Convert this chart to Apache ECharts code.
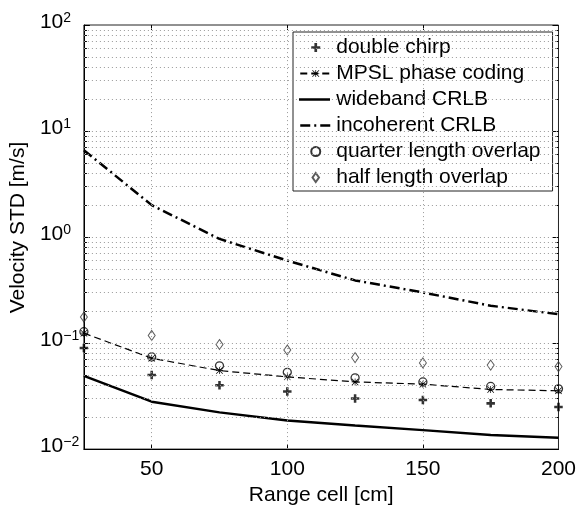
<!DOCTYPE html>
<html>
<head>
<meta charset="utf-8">
<script src="https://cdn.jsdelivr.net/npm/echarts@6/dist/echarts.min.js"></script>
<style>html,body{margin:0;padding:0;background:#fff;}#c{width:579px;height:511px;}</style>
</head>
<body>
<div id="c"></div>
<script>
// ---- data ----
var rangeCells = [25, 50, 75, 100, 125, 150, 175, 200];
var doubleChirp = [0.090, 0.050, 0.040, 0.035, 0.030, 0.029, 0.027, 0.025];
var mpslPhaseCoding = [0.124, 0.072, 0.055, 0.048, 0.043, 0.041, 0.0365, 0.0355];
var widebandCRLB = [0.049, 0.028, 0.0222, 0.0186, 0.0167, 0.0151, 0.0136, 0.0128];
var incoherentCRLB = [6.6, 2.0, 0.96, 0.60, 0.39, 0.30, 0.225, 0.187];
var quarterOverlap = [0.128, 0.074, 0.061, 0.053, 0.047, 0.043, 0.039, 0.037];
var halfOverlap = [0.176, 0.118, 0.097, 0.086, 0.073, 0.065, 0.062, 0.060];
var xTickValues = [50, 100, 150, 200];
var xGridValues = [50, 100, 150];
var yMajorValues = [0.01, 0.1, 1, 10, 100];
var yMinorValues = [];
[0.01, 0.1, 1, 10].forEach(function (d) { for (var k = 2; k <= 9; k++) yMinorValues.push(+(d * k).toPrecision(3)); });
var yGridValues = yMinorValues.concat([0.1, 1, 10]);

function pairs(ys) { return rangeCells.map(function (x, i) { return [x, ys[i]]; }); }

var FONT = '"Liberation Sans", Arial, Helvetica, sans-serif';
var plusPath = 'path://M3.5,0L6.5,0L6.5,3.5L10,3.5L10,6.5L6.5,6.5L6.5,10L3.5,10L3.5,6.5L0,6.5L0,3.5L3.5,3.5Z';
var starPath = 'path://M4.5,0L5.5,0L5.5,10L4.5,10Z M0,4.5L10,4.5L10,5.5L0,5.5Z M0,0.7L0.7,0L10,9.3L9.3,10Z M9.3,0L10,0.7L0.7,10L0,9.3Z';
var diamondPath = 'path://M5,0L10,7L5,14L0,7Z';

// legend layout (pixels)
var LEG_LEFT = 293, LEG_TOP = 32, LEG_PAD = [5, 12, 3, 6], LEG_ROW = 21, LEG_GAP = 5, LEG_ICON_W = 31;

var chart = echarts.init(document.getElementById('c'), null, {renderer: 'canvas'});

function yAxisDef(pos, values, len, labels) {
  return {
    type: 'log', logBase: 10, min: 0.01, max: 100, position: pos,
    axisLine: {show: labels, lineStyle: {color: '#000', width: 1}},
    axisTick: {show: true, inside: true, length: len, customValues: values, lineStyle: {color: '#000', width: 1}},
    splitLine: {show: false},
    axisLabel: labels ? {
      show: true, customValues: yMajorValues, align: 'left', margin: 44, padding: [0, 0, 6, 0],
      formatter: function (v) {
        var e = Math.round(Math.log10(v));
        return '{b|10}{s|' + (e < 0 ? '\u2212' + (-e) : e) + '}';
      },
      rich: {
        b: {fontSize: 21, fontFamily: FONT, color: '#000', lineHeight: 21, padding: [6, 0, 0, 0], verticalAlign: 'bottom'},
        s: {fontSize: 14, fontFamily: FONT, color: '#000', lineHeight: 14, verticalAlign: 'top'}
      }
    } : {show: false},
    name: labels ? 'Velocity STD [m/s]' : '',
    nameLocation: 'middle', nameGap: 52,
    nameTextStyle: {fontSize: 21, fontFamily: FONT, color: '#000', padding: [0, 0, 0, 19]}
  };
}

var row3Y = LEG_TOP + LEG_PAD[0] + LEG_ROW / 2 + 2 * (LEG_ROW + LEG_GAP);

var option = {
  animation: false,
  backgroundColor: '#fff',
  grid: {left: 79, right: 20, top: 25, bottom: 53, show: true, borderColor: '#222', borderWidth: 1, containLabel: false},
  xAxis: [{
    type: 'value', min: 25, max: 200, position: 'bottom',
    axisLine: {show: true, lineStyle: {color: '#000', width: 1}},
    axisTick: {show: true, inside: true, length: 5, customValues: xGridValues, lineStyle: {color: '#000'}},
    axisLabel: {show: true, customValues: xTickValues, margin: 10, fontSize: 21, fontFamily: FONT, color: '#000'},
    splitLine: {show: false},
    name: 'Range cell [cm]', nameLocation: 'middle', nameGap: 33,
    nameTextStyle: {fontSize: 21, fontFamily: FONT, color: '#000'}
  }, {
    type: 'value', min: 25, max: 200, position: 'top',
    axisLine: {show: false},
    axisTick: {show: true, inside: true, length: 5, customValues: xGridValues, lineStyle: {color: '#000'}},
    axisLabel: {show: false}, splitLine: {show: false}
  }],
  yAxis: [
    yAxisDef('left', yMajorValues, 6, true),
    yAxisDef('left', yMinorValues, 3, false),
    yAxisDef('right', yMajorValues, 6, false),
    yAxisDef('right', yMinorValues, 3, false)
  ],
  legend: {
    orient: 'vertical', left: LEG_LEFT, top: LEG_TOP,
    padding: LEG_PAD, itemGap: LEG_GAP, itemWidth: LEG_ICON_W, itemHeight: 9,
    backgroundColor: '#fff', borderColor: '#222', borderWidth: 1,
    textStyle: {fontSize: 21, fontFamily: FONT, color: '#000', lineHeight: LEG_ROW},
    data: [
      'double chirp',
      'MPSL phase coding',
      {name: 'wideband CRLB', itemStyle: {opacity: 0}, lineStyle: {opacity: 0}},
      {name: 'incoherent CRLB', itemStyle: {opacity: 0}, lineStyle: {type: [10, 4, 2, 4], width: 2.5, color: '#000'}},
      'quarter length overlap',
      'half length overlap'
    ]
  },
  graphic: [{
    type: 'rect', z: 100, silent: true,
    shape: {x: LEG_LEFT + LEG_PAD[3], y: row3Y - 4.5, width: LEG_ICON_W, height: 9},
    style: {fill: '#fff'}
  }, {
    type: 'line', z: 101, silent: true,
    shape: {x1: LEG_LEFT + LEG_PAD[3], y1: row3Y, x2: LEG_LEFT + LEG_PAD[3] + LEG_ICON_W, y2: row3Y},
    style: {stroke: '#000', lineWidth: 2.5}
  }],
  series: [
    {
      name: '_grid', type: 'line', data: [], z: 1, silent: true,
      markLine: {
        silent: true, symbol: ['none', 'none'], label: {show: false}, animation: false,
        lineStyle: {type: [1, 3], color: '#999', width: 1},
        data: yGridValues.map(function (v) { return {yAxis: v}; }).concat(xGridValues.map(function (v) { return {xAxis: v}; }))
      }
    },
    {
      name: 'wideband CRLB', type: 'line', data: pairs(widebandCRLB), z: 3,
      symbol: 'none', showSymbol: false,
      lineStyle: {color: '#000', width: 2.5, type: 'solid'}, itemStyle: {color: '#000'}
    },
    {
      name: 'incoherent CRLB', type: 'line', data: pairs(incoherentCRLB), z: 3,
      symbol: 'none', showSymbol: false,
      lineStyle: {color: '#000', width: 2.5, type: [10, 4, 2, 4]}, itemStyle: {color: '#000'}
    },
    {
      name: 'MPSL phase coding', type: 'line', data: pairs(mpslPhaseCoding), z: 4,
      symbol: starPath, symbolSize: 7, showSymbol: true,
      lineStyle: {color: '#000', width: 1.2, type: [7, 4]}, itemStyle: {color: '#000'}
    },
    {
      name: 'double chirp', type: 'scatter', data: pairs(doubleChirp), z: 4,
      symbol: plusPath, symbolSize: 8.5, itemStyle: {color: '#000'}
    },
    {
      name: 'quarter length overlap', type: 'scatter', data: pairs(quarterOverlap), z: 4,
      symbol: 'circle', symbolSize: 8,
      itemStyle: {color: 'rgba(0,0,0,0)', borderColor: '#000', borderWidth: 1.3}
    },
    {
      name: 'half length overlap', type: 'scatter', data: pairs(halfOverlap), z: 4,
      symbol: diamondPath, symbolSize: [7, 10],
      itemStyle: {color: 'rgba(0,0,0,0)', borderColor: '#333', borderWidth: 1}
    }
  ]
};
chart.setOption(option);
</script>
</body>
</html>
